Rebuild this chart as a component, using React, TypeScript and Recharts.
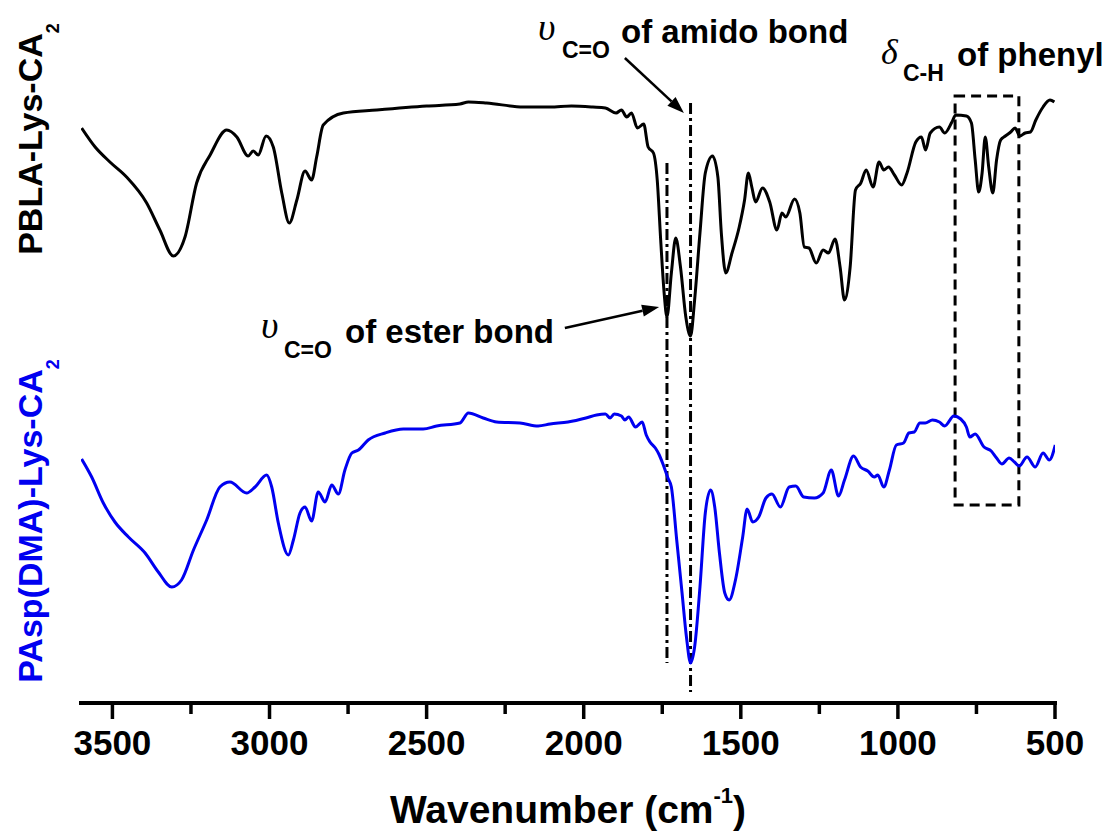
import { LineChart, Line, XAxis, YAxis, ReferenceLine, ReferenceArea } from 'recharts'

// FTIR spectra, transmittance in arbitrary units (curves are stacked, offset in the plot)
const pblaWavenumber = [
  3598, 3555, 3508, 3455, 3391, 3349, 3306, 3269, 3232, 3189, 3136, 3104, 3068, 3052, 3036, 3011,
  2988, 2961, 2937, 2913, 2887, 2866, 2850, 2829, 2765, 2659, 2500, 2394, 2367, 2309, 2192, 2107,
  2039, 1971, 1931, 1897, 1880, 1863, 1848, 1829, 1809, 1795, 1778, 1766, 1755, 1744, 1735, 1721,
  1707, 1692, 1675, 1660, 1647, 1630, 1613, 1590, 1573, 1562, 1548, 1528, 1505, 1488, 1476, 1465,
  1453, 1431, 1408, 1385, 1369, 1357, 1329, 1312, 1298, 1283, 1260, 1238, 1221, 1200, 1184, 1170,
  1152, 1135, 1118, 1101, 1079, 1060, 1045, 1030, 1011, 988, 971, 943, 925, 912, 897, 868, 851,
  828, 816, 782, 766, 754, 743, 732, 722, 711, 698, 686, 673, 658, 641, 627, 612, 595, 578, 561,
  538, 516, 502,
]
const pblaSignal = [
  575, 556, 541, 526, 500, 473, 447, 466, 520, 548, 573, 566, 547, 552, 548, 567,
  556, 510, 480, 503, 532, 523, 546, 578, 590, 593, 597, 599, 601, 600, 596, 596,
  597, 596, 595, 590, 593, 586, 590, 575, 579, 556, 550, 523, 463, 410, 386, 430,
  465, 436, 386, 367, 403, 470, 530, 547, 526, 470, 430, 450, 476, 503, 530, 516,
  501, 515, 501, 473, 490, 486, 504, 490, 456, 455, 440, 453, 450, 464, 436, 403,
  436, 513, 520, 533, 516, 541, 533, 536, 528, 518, 530, 561, 566, 553, 570, 576, 570,
  581, 588, 587, 580, 543, 511, 530, 566, 536, 510, 543, 563, 567, 571, 575, 567, 570, 571,
  583, 596, 603, 601,
]

const paspWavenumber = [
  3598, 3566, 3529, 3492, 3449, 3396, 3354, 3311, 3280, 3242, 3200, 3158, 3126, 3073, 3046, 3009,
  2993, 2972, 2940, 2924, 2903, 2887, 2866, 2845, 2823, 2802, 2781, 2760, 2738, 2717, 2686, 2632,
  2574, 2511, 2468, 2394, 2367, 2320, 2277, 2203, 2145, 2107, 2050, 1993, 1959, 1931, 1916, 1903,
  1880, 1869, 1857, 1835, 1814, 1801, 1789, 1772, 1761, 1749, 1732, 1721, 1704, 1687, 1673, 1660,
  1647, 1630, 1613, 1596, 1583, 1568, 1551, 1537, 1517, 1494, 1480, 1462, 1443, 1420, 1401, 1374,
  1346, 1325, 1300, 1266, 1238, 1212, 1189, 1170, 1141, 1119, 1096, 1075, 1064, 1045, 1027, 1005,
  982, 965, 948, 930, 913, 890, 868, 851, 822, 800, 782, 771, 754, 726, 703, 686, 669, 646, 629,
  614, 589, 563, 538, 518, 499,
]
const paspSignal = [
  244, 226, 200, 181, 166, 150, 131, 116, 123, 153, 183, 216, 221, 210, 216, 228,
  216, 180, 148, 163, 190, 196, 182, 211, 201, 218, 209, 233, 250, 253, 263, 270,
  274, 274, 277, 280, 290, 285, 281, 280, 277, 279, 281, 285, 288, 289, 285, 289,
  287, 283, 286, 276, 281, 268, 261, 255, 249, 240, 225, 216, 163, 110, 66, 40,
  56, 116, 190, 213, 196, 150, 110, 103, 123, 166, 194, 181, 186, 205, 209, 196,
  216, 217, 206, 205, 210, 233, 207, 223, 247, 236, 232, 226, 228, 216, 233, 258,
  260, 270, 271, 280, 280, 283, 281, 277, 287, 284, 276, 266, 269, 256, 252, 245, 239, 245, 241,
  237, 246, 236, 250, 243, 258,
]

const majorTicks = [3500, 3000, 2500, 2000, 1500, 1000, 500]
const minorTicks = [3250, 2750, 2250, 1750, 1250, 750]

const pblaData = pblaWavenumber.map((wn, i) => ({ wn, t: pblaSignal[i] }))
const paspData = paspWavenumber.map((wn, i) => ({ wn, t: paspSignal[i] }))
const allTicks = [...majorTicks, ...minorTicks].sort((a, b) => b - a)

const SANS = '"Liberation Sans", Arial, sans-serif'
const SERIF = '"Liberation Serif", "Times New Roman", serif'
const BLUE = '#0000f0'

function WavenumberTick(props: any) {
  const { x, y, payload } = props
  const major = majorTicks.includes(payload.value)
  return (
    <g>
      <line x1={x} x2={x} y1={y} y2={y + (major ? 16 : 11)} stroke="#000" strokeWidth={3.5} />
      {major ? (
        <text x={x} y={y + 52} textAnchor="middle" fontFamily={SANS} fontWeight="bold" fontSize={35} fill="#000">
          {payload.value}
        </text>
      ) : null}
    </g>
  )
}

// reference line drawn with an arrow head at its second point
function ArrowShape(props: any) {
  const { x1, y1, x2, y2 } = props
  const ang = Math.atan2(y2 - y1, x2 - x1)
  const len = 17
  const half = 6
  const bx = x2 - len * Math.cos(ang)
  const by = y2 - len * Math.sin(ang)
  const pts = [
    [x2, y2],
    [bx + half * Math.sin(ang), by - half * Math.cos(ang)],
    [bx - half * Math.sin(ang), by + half * Math.cos(ang)],
  ]
  return (
    <g>
      <line x1={x1} y1={y1} x2={bx} y2={by} stroke="#000" strokeWidth={2.5} />
      <polygon points={pts.map((p) => p.join(',')).join(' ')} fill="#000" />
    </g>
  )
}

function AxisTitle(props: any) {
  const { viewBox } = props
  const cx = viewBox.x + viewBox.width / 2
  return (
    <text x={cx} y={viewBox.y + 120} textAnchor="middle" fontFamily={SANS} fontWeight="bold" fontSize={39} fill="#000">
      Wavenumber (cm
      <tspan dy={-20} fontSize={22}>-1</tspan>
      <tspan dy={20}>)</tspan>
    </text>
  )
}

function Annotations() {
  return (
    <svg
      width={1110}
      height={831}
      style={{ position: 'absolute', left: 0, top: 0, pointerEvents: 'none' }}
    >
      <text x={42} y={139} transform="rotate(-90, 42, 139)" textAnchor="middle" fontFamily={SANS} fontWeight="bold" fontSize={34} fill="#000">
        PBLA-Lys-CA<tspan dy={17} fontSize={18}>2</tspan>
      </text>
      <text x={42} y={521} transform="rotate(-90, 42, 521)" textAnchor="middle" fontFamily={SANS} fontWeight="bold" fontSize={34} fill={BLUE}>
        PAsp(DMA)-Lys-CA<tspan dy={17} fontSize={18}>2</tspan>
      </text>

      <text x={538} y={40} fontFamily={SERIF} fontStyle="italic" fontSize={38} fill="#000">υ</text>
      <text x={562} y={58} fontFamily={SANS} fontWeight="bold" fontSize={23} fill="#000">C=O</text>
      <text x={621} y={43} fontFamily={SANS} fontWeight="bold" fontSize={33} fill="#000">of amido bond</text>

      <text x={261} y={338} fontFamily={SERIF} fontStyle="italic" fontSize={38} fill="#000">υ</text>
      <text x={284} y={358} fontFamily={SANS} fontWeight="bold" fontSize={23} fill="#000">C=O</text>
      <text x={345} y={343} fontFamily={SANS} fontWeight="bold" fontSize={33} fill="#000">of ester bond</text>

      <text x={881} y={64} fontFamily={SERIF} fontStyle="italic" fontSize={36} fill="#000">δ</text>
      <text x={903} y={81} fontFamily={SANS} fontWeight="bold" fontSize={23} fill="#000">C-H</text>
      <text x={957} y={66} fontFamily={SANS} fontWeight="bold" fontSize={33} fill="#000">of phenyl</text>
    </svg>
  )
}

export default function App() {
  return (
    <div style={{ position: 'absolute', left: 0, top: 0, width: 1110, height: 831, background: '#fff' }}>
      <LineChart width={1110} height={831} margin={{ top: 0, right: 55, bottom: 68, left: 81 }}>
        <XAxis
          type="number"
          dataKey="wn"
          domain={[500, 3600]}
          reversed
          allowDataOverflow
          ticks={allTicks}
          interval={0}
          tick={<WavenumberTick />}
          tickLine={false}
          tickSize={0}
          tickMargin={0}
          axisLine={{ stroke: '#000', strokeWidth: 4, strokeLinecap: 'square' }}
          height={60}
          label={<AxisTitle />}
        />
        <YAxis type="number" domain={[0, 703]} hide allowDataOverflow />

        <ReferenceLine
          segment={[{ x: 1735, y: 540 }, { x: 1735, y: 40 }]}
          stroke="#000"
          strokeWidth={3}
          strokeDasharray="11 4 3 4"
        />
        <ReferenceLine
          segment={[{ x: 1660, y: 600 }, { x: 1660, y: 11 }]}
          stroke="#000"
          strokeWidth={3}
          strokeDasharray="11 4 3 4"
        />
        <ReferenceArea
          x1={818}
          x2={615}
          y1={198}
          y2={607}
          fill="none"
          stroke="#000"
          strokeWidth={3}
          strokeDasharray="10 6"
        />
        <ReferenceLine segment={[{ x: 1869, y: 645 }, { x: 1681, y: 590 }]} shape={ArrowShape} />
        <ReferenceLine segment={[{ x: 2060, y: 375 }, { x: 1760, y: 396 }]} shape={ArrowShape} />

        <Line
          data={pblaData}
          dataKey="t"
          type="monotone"
          stroke="#000"
          strokeWidth={3}
          dot={false}
          isAnimationActive={false}
        />
        <Line
          data={paspData}
          dataKey="t"
          type="monotone"
          stroke={BLUE}
          strokeWidth={3}
          dot={false}
          isAnimationActive={false}
        />
      </LineChart>
      <Annotations />
    </div>
  )
}
